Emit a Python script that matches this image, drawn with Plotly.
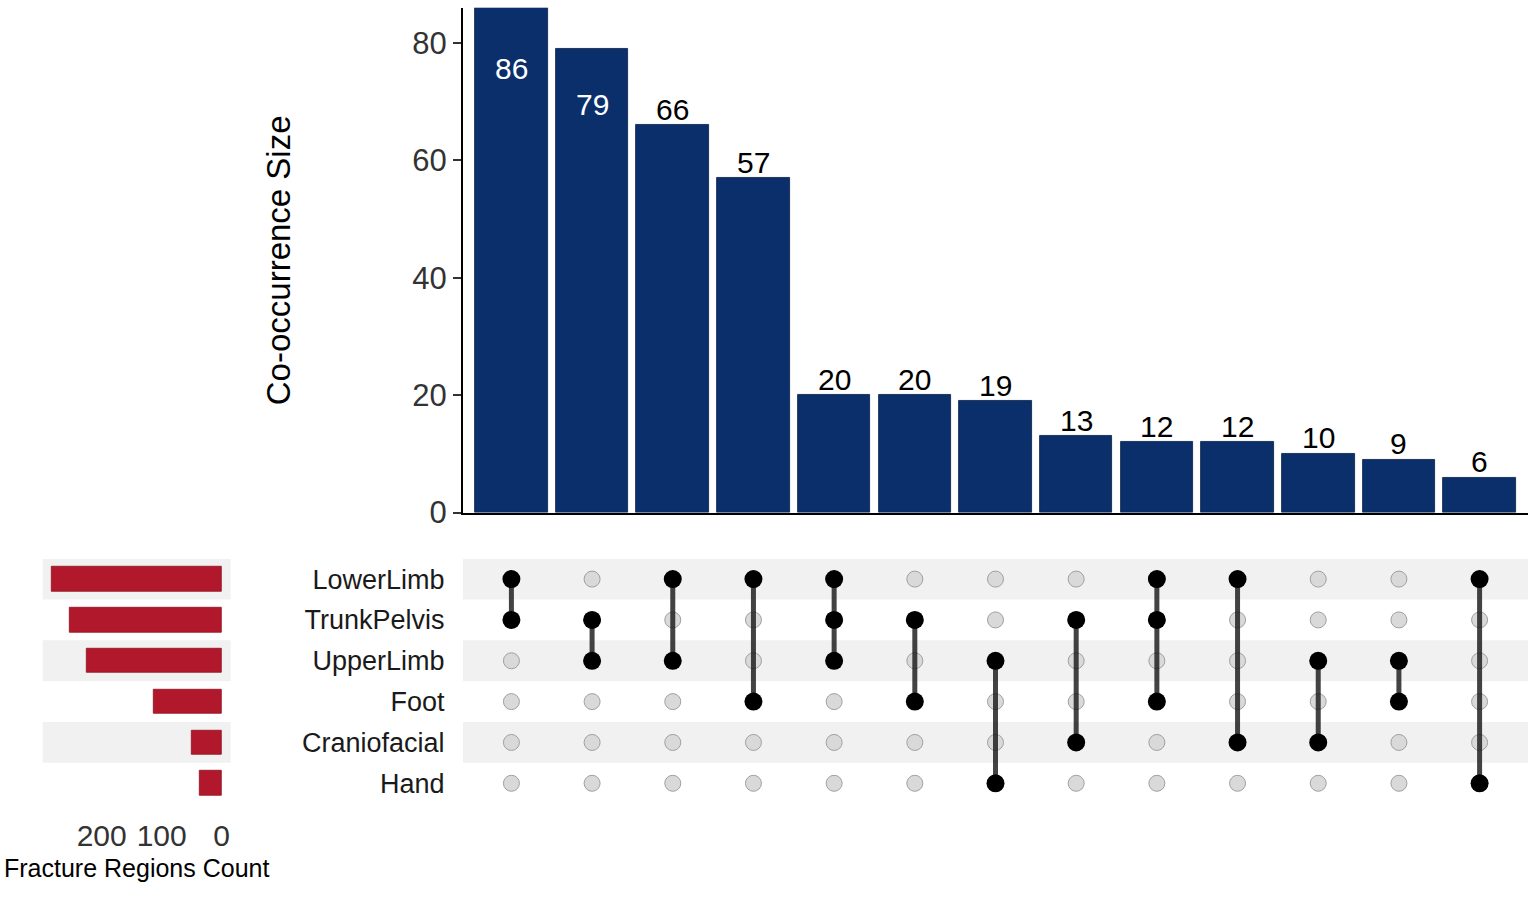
import plotly.graph_objects as go

# ---------------- data ----------------
set_names = ["LowerLimb", "TrunkPelvis", "UpperLimb", "Foot", "Craniofacial", "Hand"]
set_sizes = [283, 254, 225, 113, 50, 36]

intersection_sizes = [86, 79, 66, 57, 20, 20, 19, 13, 12, 12, 10, 9, 6]
intersection_members = [
    ["LowerLimb", "TrunkPelvis"],
    ["TrunkPelvis", "UpperLimb"],
    ["LowerLimb", "UpperLimb"],
    ["LowerLimb", "Foot"],
    ["LowerLimb", "TrunkPelvis", "UpperLimb"],
    ["TrunkPelvis", "Foot"],
    ["UpperLimb", "Hand"],
    ["TrunkPelvis", "Craniofacial"],
    ["LowerLimb", "TrunkPelvis", "Foot"],
    ["LowerLimb", "Craniofacial"],
    ["UpperLimb", "Craniofacial"],
    ["UpperLimb", "Foot"],
    ["LowerLimb", "Hand"],
]
size_ticks = [0, 20, 40, 60, 80]
count_ticks = [200, 100, 0]

# ---------------- style ----------------
W, H = 1535, 906
FONT = "Liberation Sans, Arial, sans-serif"
NAVY = "#0a2f6b"
RED = "#b2182b"
STRIPE = "#f1f1f1"
TXT = "#333333"


def xp(px):
    return px / W


def yp(py):
    return 1 - py / H


n_int = len(intersection_sizes)
n_set = len(set_names)
cols = list(range(1, n_int + 1))
row_of = {s: i for i, s in enumerate(set_names)}

fig = go.Figure()

# intersection size bars
fig.add_trace(go.Bar(
    x=cols, y=intersection_sizes, width=0.9,
    marker=dict(color=NAVY, line=dict(color="#061d45", width=0.8)),
    xaxis="x", yaxis="y", showlegend=False, hoverinfo="y",
))

# matrix: grey background dots
gx, gy = [], []
for c in cols:
    for r in range(n_set):
        gx.append(c)
        gy.append(r)
fig.add_trace(go.Scatter(
    x=gx, y=gy, mode="markers", xaxis="x2", yaxis="y2", showlegend=False,
    marker=dict(size=16, color="#d9d9d9", line=dict(color="#a0a0a0", width=1)),
    hoverinfo="skip",
))

# connecting lines
lx, ly = [], []
for c, members in zip(cols, intersection_members):
    rows = [row_of[m] for m in members]
    lx += [c, c, None]
    ly += [min(rows), max(rows), None]
fig.add_trace(go.Scatter(
    x=lx, y=ly, mode="lines", xaxis="x2", yaxis="y2", showlegend=False,
    line=dict(color="rgba(20,20,20,0.8)", width=5), hoverinfo="skip",
))

# active dots
ax_, ay_ = [], []
for c, members in zip(cols, intersection_members):
    for m in members:
        ax_.append(c)
        ay_.append(row_of[m])
fig.add_trace(go.Scatter(
    x=ax_, y=ay_, mode="markers", xaxis="x2", yaxis="y2", showlegend=False,
    marker=dict(size=18, color="black"), hoverinfo="skip",
))

# set size bars
fig.add_trace(go.Bar(
    x=set_sizes, y=list(range(n_set)), orientation="h", width=0.6,
    marker=dict(color=RED, line=dict(color="#8e1020", width=0.8)),
    xaxis="x3", yaxis="y3", showlegend=False, hoverinfo="x",
))

# row stripes
shapes = []
for r in range(0, n_set, 2):
    for xr, yr in (("x2 domain", "y2"), ("x3 domain", "y3")):
        shapes.append(dict(
            type="rect", xref=xr, yref=yr, x0=0, x1=1, y0=r - 0.5, y1=r + 0.5,
            fillcolor=STRIPE, line=dict(width=0), layer="below",
        ))

# bar value labels
annotations = []
for c, v in zip(cols, intersection_sizes):
    if v > 70:
        annotations.append(dict(
            x=c, y=v * 0.88, xref="x", yref="y", text=str(v), showarrow=False,
            font=dict(family=FONT, size=30, color="white"), yanchor="middle",
        ))
    else:
        annotations.append(dict(
            x=c, y=v, xref="x", yref="y", text=str(v), showarrow=False,
            font=dict(family=FONT, size=30, color="black"), yanchor="middle",
            yshift=16,
        ))

annotations.append(dict(
    x=xp(278), y=0.5 * (yp(523) + yp(8)), xref="paper", yref="paper",
    text="Co-occurrence Size", textangle=-90, showarrow=False,
    font=dict(family=FONT, size=33, color="black"),
    xanchor="center", yanchor="middle",
))
annotations.append(dict(
    x=0.5, y=yp(886), xref="x3 domain", yref="paper",
    text="Fracture Regions Count", showarrow=False,
    font=dict(family=FONT, size=25, color="black"),
    xanchor="center", yanchor="middle",
))

xdom = [xp(463), xp(1528)]
mdom = [yp(820), yp(570)]

fig.update_layout(
    width=W, height=H, autosize=False,
    margin=dict(l=0, r=0, t=0, b=0, pad=0),
    paper_bgcolor="white", plot_bgcolor="rgba(0,0,0,0)",
    font=dict(family=FONT, color=TXT),
    bargap=0,
    shapes=shapes, annotations=annotations,
    xaxis=dict(
        domain=xdom, range=[0.4, n_int + 0.6], showticklabels=False, ticks="",
        showgrid=False, zeroline=False, showline=True, linecolor="black",
        linewidth=2, fixedrange=True,
    ),
    yaxis=dict(
        domain=[yp(523), yp(8)], range=[0, 86], tickvals=size_ticks,
        ticks="outside", ticklen=8, tickwidth=1.5, tickcolor="#333333",
        tickfont=dict(family=FONT, size=31, color=TXT),
        showgrid=False, zeroline=False, showline=True, linecolor="black",
        linewidth=2, fixedrange=True,
    ),
    xaxis2=dict(
        domain=xdom, range=[0.4, n_int + 0.6], showticklabels=False, ticks="",
        showgrid=False, zeroline=False, showline=False, fixedrange=True,
        anchor="y2",
    ),
    yaxis2=dict(
        domain=mdom, range=[n_set - 0.5, -0.5], tickvals=list(range(n_set)),
        ticktext=set_names, ticks="outside", ticklen=12,
        tickcolor="rgba(0,0,0,0)",
        tickfont=dict(family=FONT, size=27, color="#1a1a1a"),
        showgrid=False, zeroline=False, showline=False, fixedrange=True,
        anchor="x2",
    ),
    xaxis3=dict(
        domain=[xp(42.7), xp(230.7)], range=[298.3, -15], tickvals=count_ticks,
        ticks="outside", ticklen=5, tickcolor="rgba(0,0,0,0)",
        tickfont=dict(family=FONT, size=30, color=TXT),
        showgrid=False, zeroline=False, showline=False, fixedrange=True,
        anchor="y3",
    ),
    yaxis3=dict(
        domain=mdom, range=[n_set - 0.5, -0.5], showticklabels=False, ticks="",
        showgrid=False, zeroline=False, showline=False, fixedrange=True,
        anchor="x3",
    ),
)

post = (
    "var de=document.documentElement, b=document.body;"
    "de.style.margin='0';de.style.padding='0';de.style.overflow='hidden';"
    "b.style.margin='0';b.style.padding='0';b.style.overflow='hidden';"
)
fig.write_html("out.html", config={"displayModeBar": False}, post_script=post)
